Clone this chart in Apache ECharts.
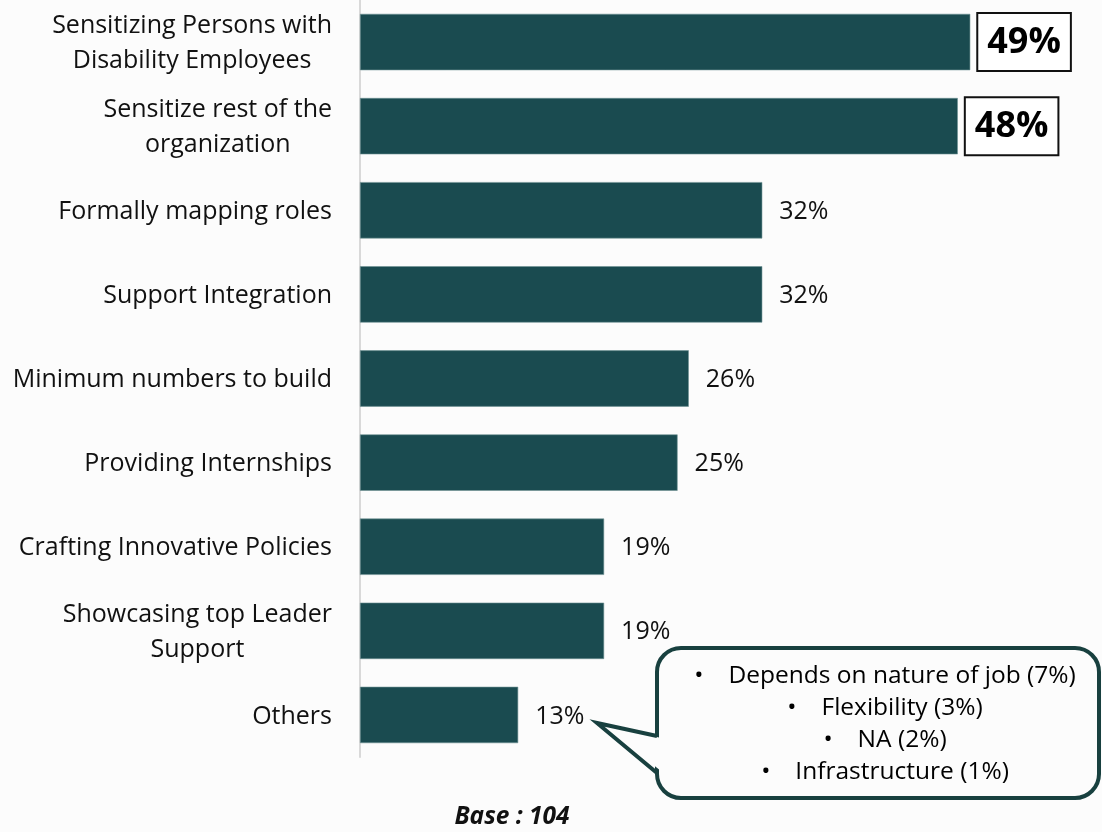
<!DOCTYPE html>
<html>
<head>
<meta charset="utf-8">
<script src="https://cdn.jsdelivr.net/npm/echarts@6/dist/echarts.min.js"></script>
<style>
  html, body { margin: 0; padding: 0; background: #fcfcfc; }
  #chart { width: 1102px; height: 832px; }
</style>
</head>
<body>
<div id="chart"></div>
<script>
// categories, top to bottom
const categories = [
  'Sensitizing Persons with\nDisability Employees',
  'Sensitize rest of the\norganization',
  'Formally mapping roles',
  'Support Integration',
  'Minimum numbers to build',
  'Providing Internships',
  'Crafting Innovative Policies',
  'Showcasing top Leader\nSupport',
  'Others'
];
// bar lengths (percent)
const values = [49, 48, 32.3, 32.3, 26.4, 25.5, 19.6, 19.6, 12.7];
// printed labels
const valueLabels = ['49%', '48%', '32%', '32%', '26%', '25%', '19%', '19%', '13%'];
const boxedCount = 2;

const othersBreakdown = [
  'Depends on nature of job (7%)',
  'Flexibility (3%)',
  'NA (2%)',
  'Infrastructure (1%)'
];
const baseText = 'Base : 104';

const FONT = '"Open Sans", "Noto Sans", sans-serif';
const barColor = '#1a4b50';
const calloutColor = '#18403f';
const bg = '#fcfcfc';

const chart = echarts.init(document.getElementById('chart'));

const calloutText = othersBreakdown.map(s => '{b|•}{s| }{t|' + s + '}').join('\n');
const calloutTok = { align: 'center', fontSize: 24.5, lineHeight: 32, color: '#111', fontFamily: FONT };

chart.setOption({
  backgroundColor: bg,
  animation: false,
  textStyle: { fontFamily: FONT },
  grid: { left: 360, width: 685, top: 0, bottom: 75, containLabel: false },
  xAxis: {
    type: 'value', min: 0, max: 55, show: false
  },
  yAxis: {
    type: 'category',
    inverse: true,
    data: categories,
    axisLine: { show: true, lineStyle: { color: '#d9d9d9', width: 2 } },
    axisTick: { show: false },
    axisLabel: {
      margin: 28,
      align: 'right',
      formatter: v => v.split('\n').map(l => '{c|' + l + '}').join('\n'),
      rich: {
        c: { align: 'center', fontSize: 25, lineHeight: 35, color: '#111', fontFamily: FONT, padding: [3, 0, 0, 0] }
      }
    }
  },
  series: [{
    type: 'bar',
    data: values,
    barCategoryGap: '33%',
    itemStyle: { color: barColor, borderColor: '#6f9294', borderWidth: 0.6 },
    label: {
      show: true,
      position: 'right',
      distance: 8,
      formatter: p => (p.dataIndex < boxedCount ? '{box|' : '{n|') + valueLabels[p.dataIndex] + '}',
      rich: {
        n: { fontSize: 25, color: '#111', padding: [3, 0, 0, 9], fontFamily: FONT },
        box: {
          fontSize: 36, fontWeight: 'bold', color: '#000', fontFamily: FONT,
          borderColor: '#111', borderWidth: 2, lineHeight: 44, padding: [11, 9, 9, 9],
          backgroundColor: '#fff'
        }
      }
    }
  }],
  graphic: [
    {
      // callout box
      type: 'rect',
      shape: { x: 657, y: 648, width: 442, height: 150, r: 24 },
      style: { fill: bg, stroke: calloutColor, lineWidth: 4 },
      z: 10
    },
    {
      // gap in the box edge where the pointer joins
      type: 'polygon',
      shape: { points: [[661, 738], [600, 723], [661, 771]] },
      style: { fill: bg },
      z: 11
    },
    {
      // pointer towards "Others"
      type: 'polyline',
      shape: { points: [[657, 736], [597, 723], [657, 773]] },
      style: { stroke: calloutColor, lineWidth: 4, fill: null, lineJoin: 'miter' },
      z: 12
    },
    {
      type: 'text',
      x: 885, y: 724,
      style: {
        text: calloutText,
        align: 'center',
        verticalAlign: 'middle',
        fontFamily: FONT,
        fontSize: 24.5,
        rich: {
          b: calloutTok,
          s: Object.assign({}, calloutTok, { width: 25 }),
          t: calloutTok
        }
      },
      z: 13
    },
    {
      type: 'text',
      x: 512, y: 817,
      style: {
        text: baseText,
        align: 'center',
        verticalAlign: 'middle',
        fontFamily: FONT,
        fontSize: 24.5,
        fontWeight: 'bold',
        fontStyle: 'italic',
        fill: '#111'
      }
    }
  ]
});
</script>
</body>
</html>
